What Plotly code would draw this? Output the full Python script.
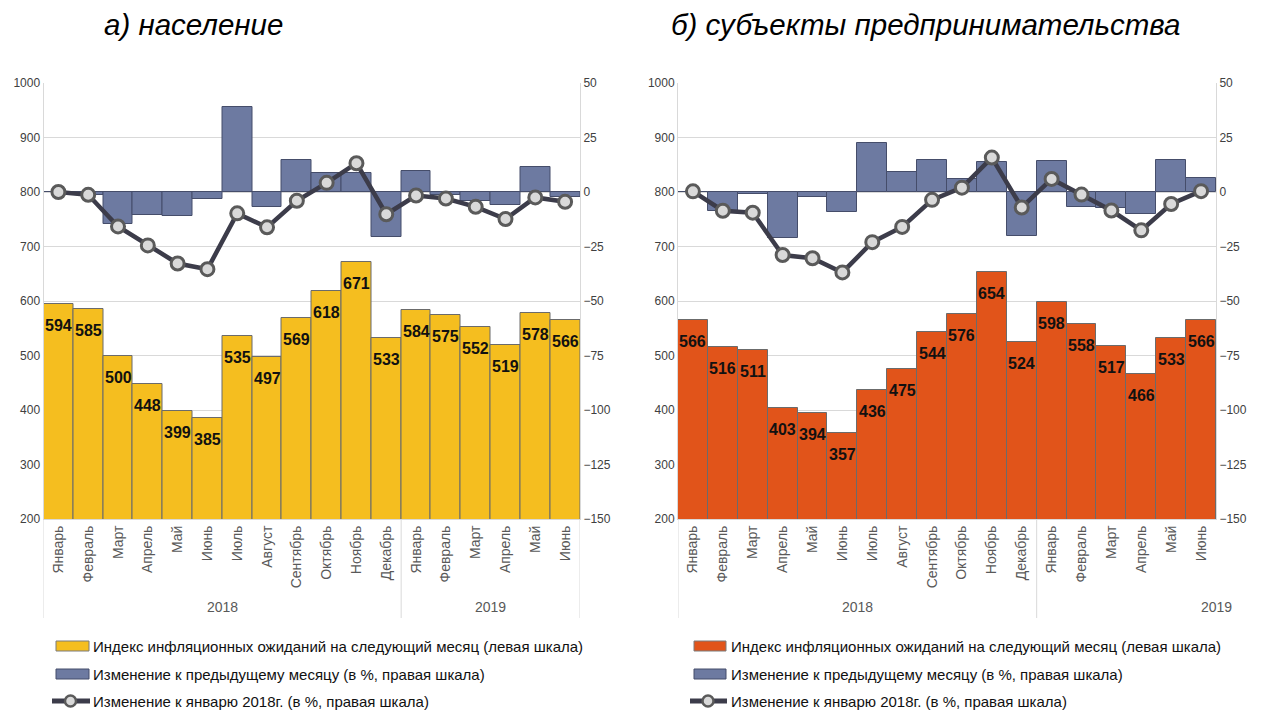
import plotly.graph_objects as go

months = ["Январь", "Февраль", "Март", "Апрель", "Май", "Июнь", "Июль", "Август",
          "Сентябрь", "Октябрь", "Ноябрь", "Декабрь",
          "Январь", "Февраль", "Март", "Апрель", "Май", "Июнь"]
years = ["2018", "2019"]

# а) население
pop_index = [594, 585, 500, 448, 399, 385, 535, 497, 569, 618, 671, 533,
             584, 575, 552, 519, 578, 566]
pop_mom = [0.0, -1.5, -14.6, -10.4, -10.9, -3.3, 39.1, -7.1, 14.6, 8.7, 8.7, -20.6,
           9.6, -1.5, -4.1, -6.1, 11.5, -2.3]
pop_jan = [0.0, -1.3, -15.8, -24.5, -32.8, -35.4, -9.8, -16.2, -4.0, 4.2, 13.2, -10.2,
           -1.6, -3.0, -6.8, -12.4, -2.5, -4.5]

# б) субъекты предпринимательства
biz_index = [566, 516, 511, 403, 394, 357, 436, 475, 544, 576, 654, 524,
             598, 558, 517, 466, 533, 566]
biz_mom = [0.0, -8.9, -1.0, -21.2, -2.2, -9.4, 22.3, 9.0, 14.8, 6.0, 13.7, -20.0,
           14.4, -6.8, -7.3, -9.9, 14.6, 6.3]
biz_jan = [0.3, -8.6, -9.5, -28.9, -30.4, -36.9, -23.0, -16.0, -3.6, 2.0, 15.8, -7.1,
           6.0, -1.2, -8.5, -17.6, -5.5, 0.4]

titles = ["а) население", "б) субъекты предпринимательства"]
legend_texts = ["Индекс инфляционных ожиданий на следующий месяц (левая шкала)",
                "Изменение к предыдущему месяцу (в %, правая шкала)",
                "Изменение к январю 2018г. (в %, правая шкала)"]

# page has an 8px body margin; figure is sized so the page is exactly 1262x718
OFF = 8
W, H = 1262 - 2 * OFF, 718 - 2 * OFF
FONT = "Liberation Sans, Arial, sans-serif"
YELLOW = "#F5BE1F"
ORANGE = "#E1541A"
SLATE = "#6D7AA1"
LINEC = "#3C3C4A"


def px(x):
    return (x - OFF) / W


def py(y):
    return 1 - (y - OFF) / H


panels = [
    dict(idx=pop_index, mom=pop_mom, jan=pop_jan, color=YELLOW,
         title_x=193, xa="x", ya="y", ya2="y2", right_line=True, y2019_at_edge=False,
         leg_rect=(56, 89), leg_text=91),
    dict(idx=biz_index, mom=biz_mom, jan=biz_jan, color=ORANGE,
         title_x=925, xa="x2", ya="y3", ya2="y4", right_line=False, y2019_at_edge=True,
         leg_rect=(694, 726), leg_text=729),
]

fig = go.Figure()
xs = list(range(len(months)))
top_px, bot_px = 83, 519

shapes = []
annotations = []

for k, p in enumerate(panels):
    fig.add_trace(go.Bar(x=xs, y=p["idx"], width=1, marker=dict(color=p["color"], line=dict(color="#6b6b6b", width=1)),
                         xaxis=p["xa"], yaxis=p["ya"], showlegend=False, hoverinfo="y"))
    fig.add_trace(go.Bar(x=xs, y=p["mom"], width=1, marker=dict(color=SLATE, line=dict(color="#454d6a", width=1)),
                         xaxis=p["xa"], yaxis=p["ya2"], showlegend=False, hoverinfo="y"))
    fig.add_trace(go.Scatter(x=xs, y=p["jan"], mode="lines+markers",
                             line=dict(color=LINEC, width=4.5),
                             marker=dict(size=13, color="#D9D9D9", line=dict(color="#5A5A5A", width=3)),
                             xaxis=p["xa"], yaxis=p["ya2"], showlegend=False, hoverinfo="y"))
    # data labels
    for i, v in enumerate(p["idx"]):
        annotations.append(dict(x=i, y=v, xref=p["xa"], yref=p["ya"], text=str(v), showarrow=False,
                                yanchor="top", yshift=-11,
                                font=dict(family=FONT, size=16, color="#111111", weight="bold")))
    # title
    annotations.append(dict(x=px(p["title_x"]), y=py(25), xref="paper", yref="paper", text=titles[k],
                            showarrow=False, xanchor="center", yanchor="middle",
                            font=dict(family=FONT, size=29.5, color="#000000", style="italic")))
    # year group labels
    xa_ref = p["xa"]
    annotations.append(dict(x=5.5, y=py(607), xref=xa_ref, yref="paper", text=years[0], showarrow=False,
                            xanchor="center", yanchor="middle", font=dict(family=FONT, size=14, color="#595959")))
    x2019 = 17.5 if p["y2019_at_edge"] else 14.5
    annotations.append(dict(x=x2019, y=py(607), xref=xa_ref, yref="paper", text=years[1], showarrow=False,
                            xanchor="center", yanchor="middle", font=dict(family=FONT, size=14, color="#595959")))
    seps = [-0.5, 11.5] + ([17.5] if p["right_line"] else [])
    for s in seps:
        shapes.append(dict(type="line", xref=xa_ref, yref="paper", x0=s, x1=s, y0=py(bot_px), y1=py(618),
                           line=dict(color="#D9D9D9", width=1)))
    # custom legend
    r0, r1 = p["leg_rect"]
    rows = [646, 674, 701]
    shapes.append(dict(type="rect", xref="paper", yref="paper", x0=px(r0), x1=px(r1), y0=py(rows[0] + 5),
                       y1=py(rows[0] - 5), fillcolor=p["color"], line=dict(color="#7a7a7a", width=1)))
    shapes.append(dict(type="rect", xref="paper", yref="paper", x0=px(r0), x1=px(r1), y0=py(rows[1] + 5),
                       y1=py(rows[1] - 5), fillcolor=SLATE, line=dict(color="#454d6a", width=1)))
    shapes.append(dict(type="line", xref="paper", yref="paper", x0=px(r0 - 4), x1=px(r1 + 1), y0=py(rows[2]),
                       y1=py(rows[2]), line=dict(color=LINEC, width=5)))
    cx = (r0 + r1) / 2 - 2
    shapes.append(dict(type="circle", xref="paper", yref="paper", x0=px(cx - 5.5), x1=px(cx + 5.5),
                       y0=py(rows[2] + 5.5), y1=py(rows[2] - 5.5), fillcolor="#D9D9D9",
                       line=dict(color="#5A5A5A", width=2.5)))
    for j, t in enumerate(legend_texts):
        annotations.append(dict(x=px(p["leg_text"]), y=py(rows[j]), xref="paper", yref="paper", text=t,
                                showarrow=False, xanchor="left", yanchor="middle",
                                font=dict(family=FONT, size=15, color="#111111")))

tickfont = dict(family=FONT, size=12, color="#404040")
ydom = [py(bot_px), py(top_px)]
common_x = dict(range=[-0.5, 17.5], tickmode="array", tickvals=xs, ticktext=months, tickangle=-90,
                tickfont=dict(family=FONT, size=14, color="#595959"), showgrid=False, ticks="",
                showline=True, linecolor="#D9D9D9", zeroline=False, fixedrange=True, automargin=False)
left_y = dict(range=[200, 1000], dtick=100, tick0=200, showgrid=True, gridcolor="#D9D9D9", gridwidth=1,
              zeroline=False, showline=True, linecolor="#D9D9D9", tickfont=tickfont, ticks="", domain=ydom,
              automargin=False)
right_y = dict(range=[-150, 50], dtick=25, tick0=-150, showgrid=False, zeroline=False, showline=True,
               linecolor="#D9D9D9", tickfont=tickfont, ticks="", side="right", automargin=False)

fig.update_layout(
    width=W, height=H, margin=dict(l=0, r=0, t=0, b=0, pad=0, autoexpand=False),
    paper_bgcolor="white", plot_bgcolor="white",
    barmode="overlay", bargap=0, showlegend=False,
    xaxis=dict(domain=[px(43.5), px(580)], anchor="y", **common_x),
    xaxis2=dict(domain=[px(678), px(1216)], anchor="y3", **common_x),
    yaxis=dict(anchor="x", **left_y),
    yaxis2=dict(anchor="x", overlaying="y", **right_y),
    yaxis3=dict(anchor="x2", **left_y),
    yaxis4=dict(anchor="x2", overlaying="y3", **right_y),
    shapes=shapes, annotations=annotations,
)

fig.write_html("out.html")
